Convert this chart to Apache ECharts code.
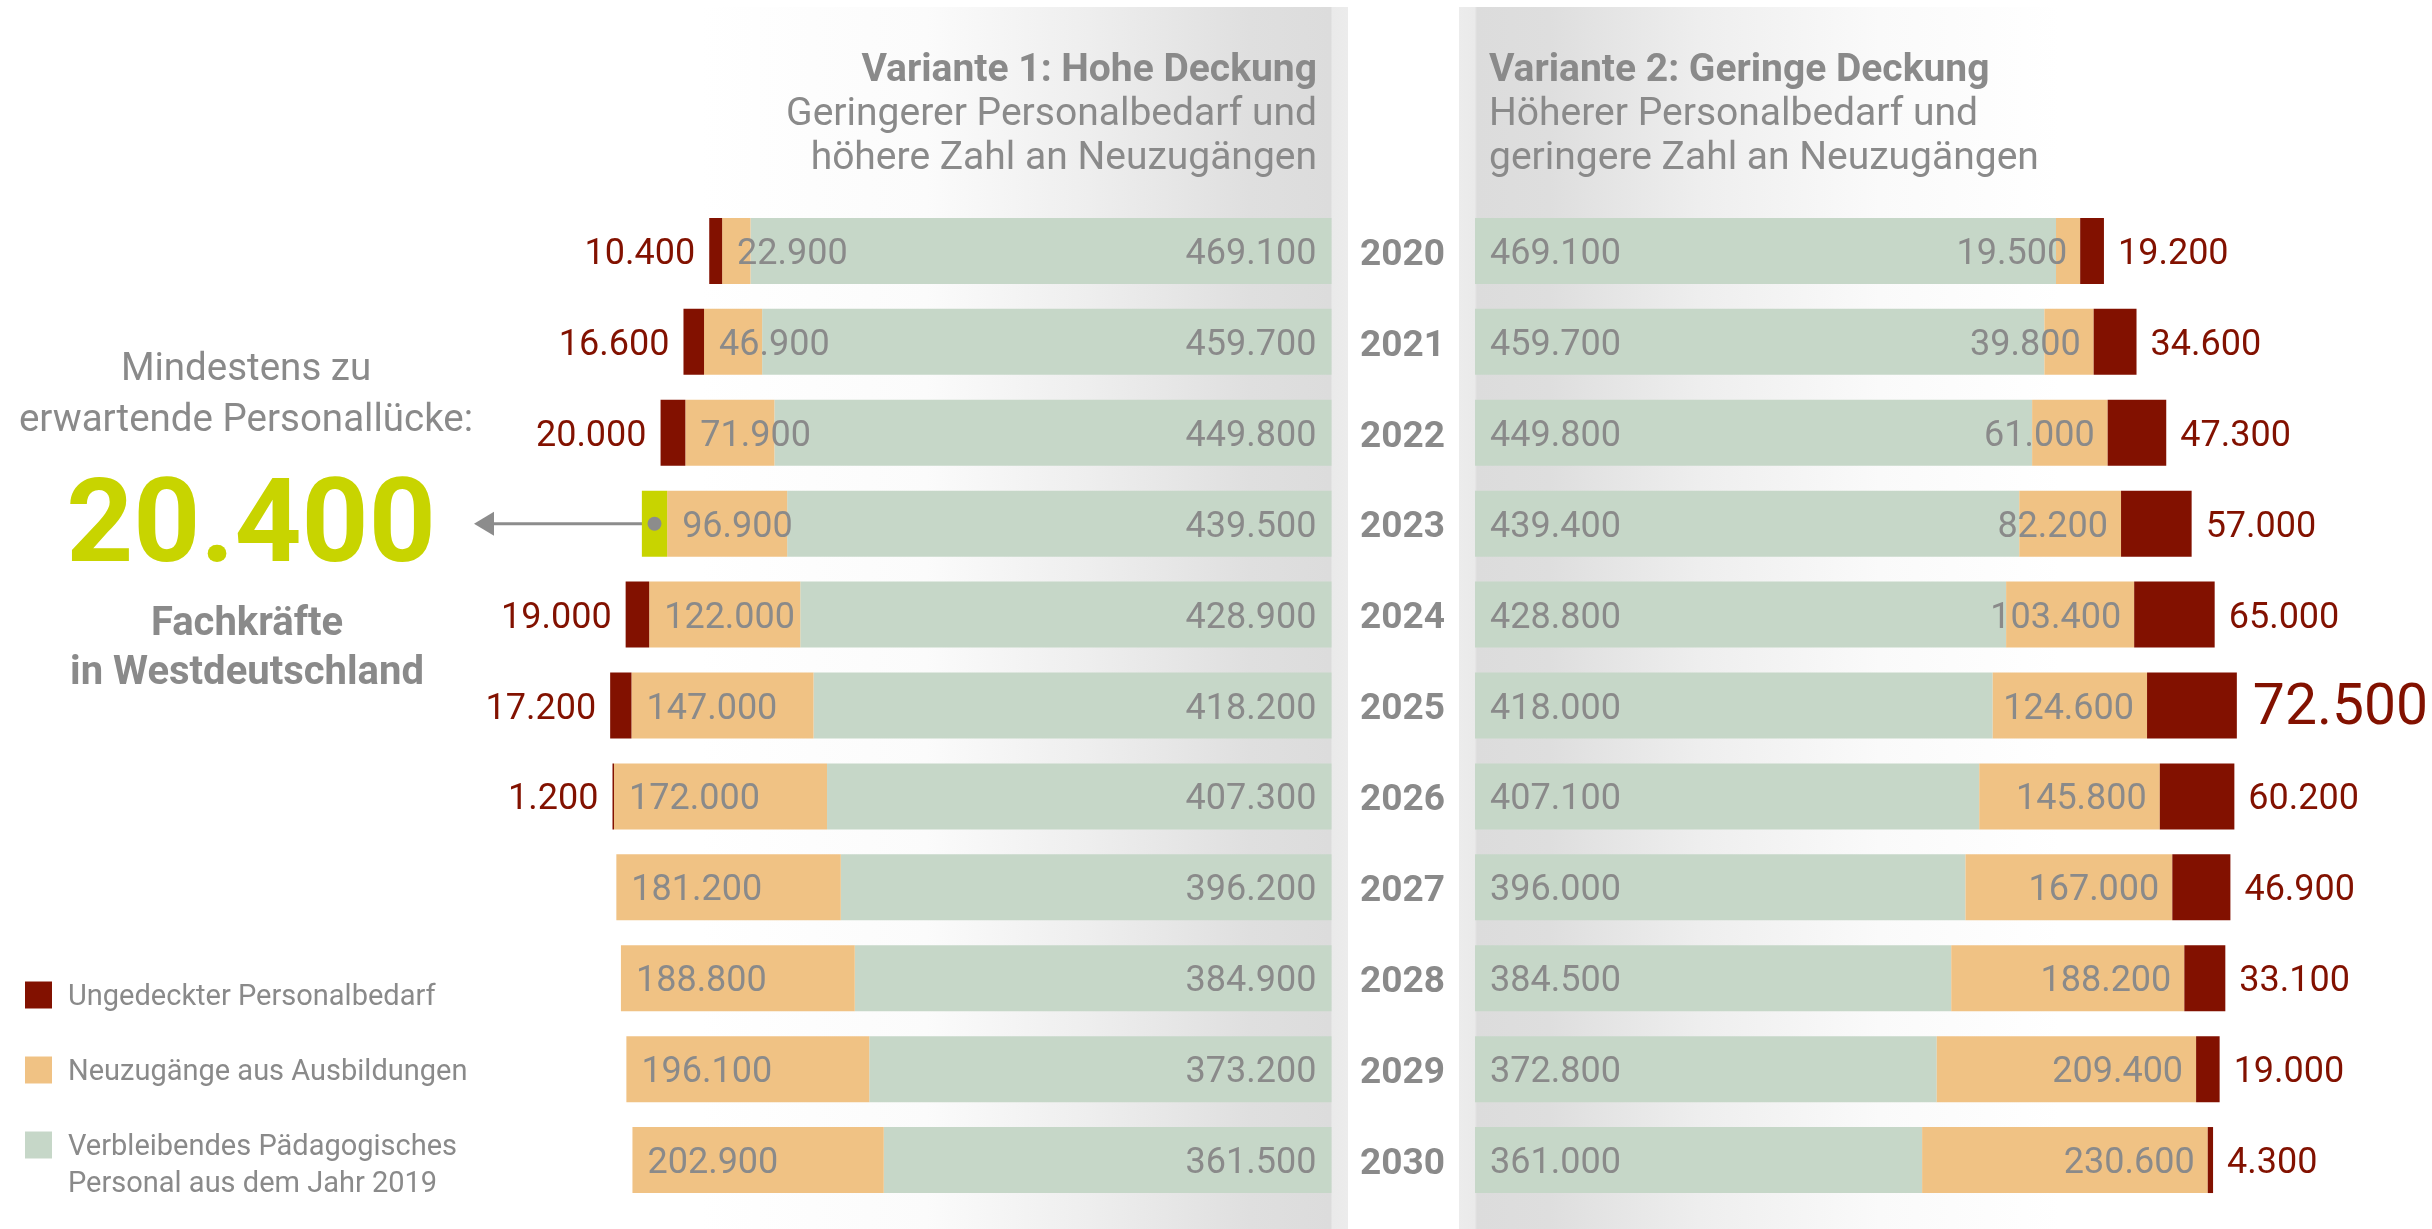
<!DOCTYPE html>
<html>
<head>
<meta charset="utf-8">
<script src="https://cdn.jsdelivr.net/npm/echarts@6/dist/echarts.min.js"></script>
<style>
  html, body { margin: 0; padding: 0; background: #fff; }
  #chart { width: 2432px; height: 1229px; }
</style>
</head>
<body>
<div id="chart"></div>
<script>
/* Personalbedarf Westdeutschland – two variants, stacked bars mirrored around the year column */
var years = ['2020','2021','2022','2023','2024','2025','2026','2027','2028','2029','2030'];

// Variante 1: Hohe Deckung
var v1Remaining = [469100,459700,449800,439500,428900,418200,407300,396200,384900,373200,361500];
var v1New       = [22900,46900,71900,96900,122000,147000,172000,181200,188800,196100,202900];
var v1Gap       = [10400,16600,20000,20400,19000,17200,1200,0,0,0,0];

// Variante 2: Geringe Deckung
var v2Remaining = [469100,459700,449800,439400,428800,418000,407100,396000,384500,372800,361000];
var v2New       = [19500,39800,61000,82200,103400,124600,145800,167000,188200,209400,230600];
var v2Gap       = [19200,34600,47300,57000,65000,72500,60200,46900,33100,19000,4300];

var seriesNames = ['Ungedeckter Personalbedarf', 'Neuzugänge aus Ausbildungen', 'Verbleibendes Pädagogisches\nPersonal aus dem Jahr 2019'];
var titles1 = ['Variante 1: Hohe Deckung', 'Geringerer Personalbedarf und', 'höhere Zahl an Neuzugängen'];
var titles2 = ['Variante 2: Geringe Deckung', 'Höherer Personalbedarf und', 'geringere Zahl an Neuzugängen'];
var noteLines = ['Mindestens zu', 'erwartende Personallücke:'];
var noteUnit = ['Fachkräfte', 'in Westdeutschland'];

(function(){
  var el = document.getElementById('chart');
  var c = echarts.init(el);

  var FONT = 'Roboto, "Noto Sans", sans-serif';
  var grey = '#8a8a8a';
  var red = '#821100';
  var orange = '#f0c284';
  var green = '#c6d7c8';
  var lime = '#c8d400';
  var colors = [red, orange, green];

  var AX_MAX = 700000;
  var GRID_W = 867;
  var GRID_TOP = 205.5;
  var GRID_H = 1000;
  var BAR_W = 66;

  function fmt(v){ return String(v).replace(/\B(?=(\d{3})+(?!\d))/g, '.'); }

  var hi1 = v1Gap.indexOf(Math.max.apply(null, v1Gap));
  var hi2 = v2Gap.indexOf(Math.max.apply(null, v2Gap));

  function lbl(pos, dist, color){
    return { show: true, position: pos, distance: dist, offset: [0, 4], color: color, fontSize: 36,
      fontFamily: FONT, formatter: function(p){ return p.value ? fmt(p.value) : ''; } };
  }

  function bars(name, stack, axis, data, color, label){
    return { name: name, type: 'bar', stack: stack, xAxisIndex: axis, yAxisIndex: axis,
      barWidth: BAR_W, data: data, itemStyle: { color: color }, label: label,
      emphasis: { disabled: true }, silent: true };
  }

  var gap1 = v1Gap.map(function(v, i){
    if (i === hi1) return { value: v, itemStyle: { color: lime }, label: { show: false } };
    return v;
  });
  var gap2 = v2Gap.map(function(v, i){
    if (i === hi2) return { value: v, label: { fontSize: 57, distance: 16 } };
    return v;
  });

  var series = [
    bars(seriesNames[2], 'v1', 0, v1Remaining, green, lbl('insideRight', 15, grey)),
    bars(seriesNames[1], 'v1', 0, v1New, orange, lbl('insideLeft', 15, grey)),
    bars(seriesNames[0], 'v1', 0, gap1, red, lbl('left', 14, red)),
    bars(seriesNames[2], 'v2', 1, v2Remaining, green, lbl('insideLeft', 15, grey)),
    bars(seriesNames[1], 'v2', 1, v2New, orange, lbl('insideRight', 13, grey)),
    bars(seriesNames[0], 'v2', 1, gap2, red, lbl('right', 14, red))
  ];

  var leftX = 1331.5 - GRID_W;
  var rightX = 1475;

  function panelGrad(stops){
    return new echarts.graphic.LinearGradient(0, 0, 1, 0, stops.map(function(s){ return { offset: s[0], color: s[1] }; }));
  }

  var graphics = [
    { type: 'rect', z: -10, shape: { x: 700, y: 7, width: 648, height: 1222 },
      style: { fill: panelGrad([[0,'#ffffff'],[0.35,'#fbfbfb'],[0.6,'#eeeeee'],[0.85,'#dfdfdf'],[0.973,'#dcdcdc'],[0.976,'#eaeaea'],[1,'#ececec']]) } },
    { type: 'rect', z: -10, shape: { x: 1459, y: 7, width: 601, height: 1222 },
      style: { fill: panelGrad([[0,'#ececec'],[0.026,'#eaeaea'],[0.03,'#dcdcdc'],[0.15,'#dedede'],[0.4,'#eeeeee'],[0.7,'#fafafa'],[1,'#ffffff']]) } }
  ];

  var titleY = [71, 115, 159];
  titles1.forEach(function(t, i){
    graphics.push({ type: 'text', style: { text: t, x: 1317, y: titleY[i], align: 'right', verticalAlign: 'middle',
      fontSize: 39, fontWeight: i === 0 ? 'bold' : 'normal', fontFamily: FONT, fill: grey } });
  });
  titles2.forEach(function(t, i){
    graphics.push({ type: 'text', style: { text: t, x: 1489, y: titleY[i], align: 'left', verticalAlign: 'middle',
      fontSize: 39, fontWeight: i === 0 ? 'bold' : 'normal', fontFamily: FONT, fill: grey } });
  });

  // left callout
  noteLines.forEach(function(t, i){
    graphics.push({ type: 'text', style: { text: t, x: 246, y: 370 + i * 51, align: 'center', verticalAlign: 'middle',
      fontSize: 38.5, fontFamily: FONT, fill: grey } });
  });
  graphics.push({ type: 'text', style: { text: fmt(v1Gap[hi1]), x: 251, y: 532, align: 'center', verticalAlign: 'middle',
    fontSize: 117, fontWeight: 'bold', fontFamily: FONT, fill: lime } });
  noteUnit.forEach(function(t, i){
    graphics.push({ type: 'text', style: { text: t, x: 247, y: 625 + i * 49, align: 'center', verticalAlign: 'middle',
      fontSize: 40, fontWeight: 'bold', fontFamily: FONT, fill: grey } });
  });

  // legend
  var legY = [995, 1070, 1145];
  seriesNames.forEach(function(n, i){
    graphics.push({ type: 'rect', shape: { x: 25, y: legY[i] - 13.5, width: 27, height: 27 }, style: { fill: colors[i] } });
    n.split('\n').forEach(function(line, j){
      graphics.push({ type: 'text', style: { text: line, x: 68, y: legY[i] + 3 + j * 37, align: 'left', verticalAlign: 'middle',
        fontSize: 29, fontFamily: FONT, fill: grey } });
    });
  });

  c.setOption({
    animation: false,
    backgroundColor: '#ffffff',
    grid: [
      { left: leftX, top: GRID_TOP, width: GRID_W, height: GRID_H },
      { left: rightX, top: GRID_TOP, width: GRID_W, height: GRID_H }
    ],
    xAxis: [
      { type: 'value', gridIndex: 0, min: 0, max: AX_MAX, inverse: true, show: false, splitLine: { show: false } },
      { type: 'value', gridIndex: 1, min: 0, max: AX_MAX, show: false, splitLine: { show: false } }
    ],
    yAxis: [
      { type: 'category', gridIndex: 0, data: years, inverse: true, show: false },
      { type: 'category', gridIndex: 1, data: years, inverse: true,
        axisLine: { show: false }, axisTick: { show: false },
        axisLabel: { margin: 72.5, align: 'center', formatter: '{y|{value}}',
          rich: { y: { padding: [9, 0, 0, 0], color: grey, fontSize: 37, fontWeight: 'bold', fontFamily: FONT } } } }
    ],
    graphic: { elements: graphics },
    series: series
  });

  // arrow from the highlighted gap segment to the callout number
  var mid = v1Remaining[hi1] + v1New[hi1] + v1Gap[hi1] / 2;
  var p = c.convertToPixel({ xAxisIndex: 0, yAxisIndex: 0 }, [mid, years[hi1]]);
  var tipX = 474;
  c.setOption({ graphic: { elements: [
    { id: 'arrowLine', type: 'line', shape: { x1: p[0], y1: p[1], x2: tipX + 18, y2: p[1] }, style: { stroke: '#8c8c8c', lineWidth: 3 } },
    { id: 'arrowHead', type: 'polygon', shape: { points: [[tipX, p[1]], [tipX + 20, p[1] - 12], [tipX + 20, p[1] + 12]] }, style: { fill: '#8c8c8c' } },
    { id: 'arrowDot', type: 'circle', z: 5, shape: { cx: p[0], cy: p[1], r: 7 }, style: { fill: '#8c8c8c' } }
  ] } });

  window.addEventListener('resize', function(){ c.resize(); });
})();
</script>
</body>
</html>
